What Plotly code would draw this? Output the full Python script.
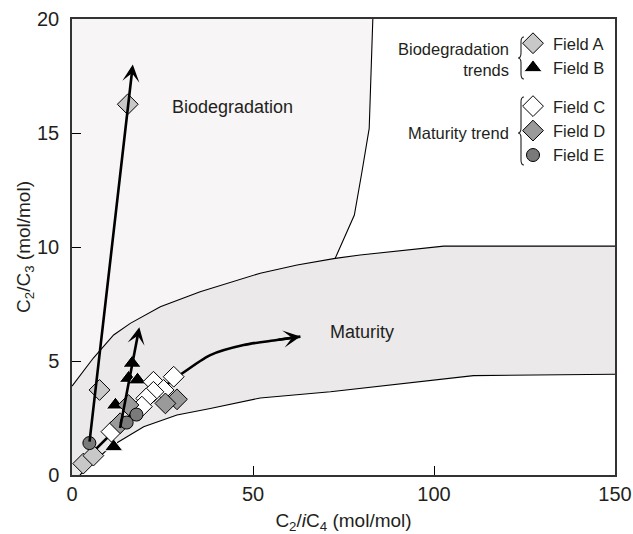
import plotly.graph_objects as go

# ---------------- data ----------------
FIELD_A_X = [3.1, 5.9, 7.6, 15.4]
FIELD_A_Y = [0.5, 0.85, 3.73, 16.26]

FIELD_B_X = [11.5, 12.0, 15.6, 18.1, 16.6]
FIELD_B_Y = [1.24, 3.07, 4.24, 4.17, 4.9]

FIELD_C_X = [28.1, 22.5, 25.3, 22.5, 20.5, 19.3, 10.9]
FIELD_C_Y = [4.31, 4.09, 3.73, 3.65, 3.36, 3.0, 1.9]

FIELD_D_X = [29.0, 25.8, 15.6, 13.3]
FIELD_D_Y = [3.32, 3.14, 3.07, 2.27]

FIELD_E_X = [4.8, 15.1, 17.8]
FIELD_E_Y = [1.4, 2.3, 2.65]

# maturity envelope
MAT_UPPER_X = [0, 5.9, 11.5, 16.1, 24.4, 35.4, 52.0, 62.2, 72.7, 79.6, 102.7, 150]
MAT_UPPER_Y = [3.9, 5.13, 6.14, 6.65, 7.38, 8.04, 8.85, 9.21, 9.5, 9.65, 10.04, 10.04]
MAT_LOWER_X = [2.2, 3.7, 10.6, 19.8, 29.0, 38.2, 52.0, 71.4, 110.9, 150]
MAT_LOWER_Y = [0, 0.22, 1.24, 2.12, 2.63, 2.92, 3.38, 3.65, 4.36, 4.42]
# biodegradation field boundary
BIO_X = [72.7, 78.0, 80.1, 82.1, 83.1]
BIO_Y = [9.5, 11.4, 13.3, 15.2, 20]

# trend arrows
ARROW_A = {"x0": 4.8, "y0": 1.4, "x1": 16.8, "y1": 18.0}
ARROW_B = {"x0": 13.2, "y0": 2.0, "x1": 18.6, "y1": 6.48}
MAT_ARROW_X = [1.7, 20.2, 29.9, 38.2, 47.4, 56.6, 63.1]
MAT_ARROW_Y = [0.36, 3.21, 4.39, 5.26, 5.7, 5.92, 6.07]

X_RANGE = [0, 150]
Y_RANGE = [0, 20]
X_TICKS = [0, 50, 100, 150]
Y_TICKS = [0, 5, 10, 15, 20]

# ---------------- style ----------------
FONT = "Liberation Sans, Arial, Helvetica, sans-serif"
TXT = "#231f20"
BIO_FILL = "#f8f5f6"
MAT_FILL = "#ebe9ea"

W, H = 633, 534
# plot area in window pixels
L, R, T, B = 72, 615, 19, 475


def pp(px, py):
    return (px - L) / (R - L), (B - py) / (B - T)


fig = go.Figure()

# biodegradation field polygon
n_up = sum(1 for v in MAT_UPPER_X if v <= BIO_X[0])
bx = MAT_UPPER_X[:n_up] + BIO_X[1:] + [0]
by = MAT_UPPER_Y[:n_up] + BIO_Y[1:] + [Y_RANGE[1]]
fig.add_trace(go.Scatter(x=bx, y=by, fill="toself", fillcolor=BIO_FILL, mode="lines",
                         line=dict(width=0), hoverinfo="skip", showlegend=False))

# maturity band polygon
mx = [0] + MAT_LOWER_X + MAT_UPPER_X[::-1]
my = [0] + MAT_LOWER_Y + MAT_UPPER_Y[::-1]
fig.add_trace(go.Scatter(x=mx, y=my, fill="toself", fillcolor=MAT_FILL, mode="lines",
                         line=dict(width=0), hoverinfo="skip", showlegend=False))

for xs, ys in [(MAT_UPPER_X, MAT_UPPER_Y), (MAT_LOWER_X, MAT_LOWER_Y), (BIO_X, BIO_Y)]:
    fig.add_trace(go.Scatter(x=xs, y=ys, mode="lines",
                             line=dict(color="#000", width=1.1),
                             hoverinfo="skip", showlegend=False))

# maturity trend curve
fig.add_trace(go.Scatter(x=MAT_ARROW_X, y=MAT_ARROW_Y, mode="lines",
                         line=dict(color="#000", width=2.6, shape="spline", smoothing=0.8),
                         hoverinfo="skip", showlegend=False))

mk_line = dict(color="#000", width=1)
fig.add_trace(go.Scatter(x=FIELD_A_X, y=FIELD_A_Y, mode="markers", name="Field A",
                         legendgroup="bio",
                         marker=dict(symbol="diamond", size=16, color="#c9c8c8", line=mk_line)))
fig.add_trace(go.Scatter(x=FIELD_B_X, y=FIELD_B_Y, mode="markers", name="Field B",
                         legendgroup="bio",
                         marker=dict(symbol="triangle-up", size=16, color="#000",
                                     line=dict(color="#fff", width=1))))
fig.add_trace(go.Scatter(x=FIELD_C_X, y=FIELD_C_Y, mode="markers", name="Field C",
                         legendgroup="mat",
                         marker=dict(symbol="diamond", size=16, color="#fff", line=mk_line)))
fig.add_trace(go.Scatter(x=FIELD_D_X, y=FIELD_D_Y, mode="markers", name="Field D",
                         legendgroup="mat",
                         marker=dict(symbol="diamond", size=16, color="#9b9a9a", line=mk_line)))
fig.add_trace(go.Scatter(x=FIELD_E_X, y=FIELD_E_Y, mode="markers", name="Field E",
                         legendgroup="mat",
                         marker=dict(symbol="circle", size=13, color="#7b7a7a", line=mk_line)))

annotations = []
for a in (ARROW_A, ARROW_B):
    annotations.append(dict(x=a["x1"], y=a["y1"], ax=a["x0"], ay=a["y0"], xref="x", yref="y",
                            axref="x", ayref="y", text="", showarrow=True, arrowhead=3,
                            arrowsize=1.1, arrowwidth=2.6, arrowcolor="#000", standoff=0))
annotations.append(dict(x=MAT_ARROW_X[-1], y=MAT_ARROW_Y[-1], ax=MAT_ARROW_X[-2], ay=MAT_ARROW_Y[-2],
                        xref="x", yref="y", axref="x", ayref="y", text="", showarrow=True,
                        arrowhead=3, arrowsize=1.1, arrowwidth=2.6, arrowcolor="#000", standoff=0))

annotations.append(dict(x=44.4, y=16.15, xref="x", yref="y", text="Biodegradation", showarrow=False,
                        font=dict(size=18, color=TXT, family=FONT)))
annotations.append(dict(x=80.1, y=6.29, xref="x", yref="y", text="Maturity", showarrow=False,
                        font=dict(size=18, color=TXT, family=FONT)))

# legend group labels
gx, gy = pp(511, 59)
annotations.append(dict(x=gx, y=gy, xref="paper", yref="paper", xanchor="right", yanchor="middle",
                        align="right", text="Biodegradation<br>trends", showarrow=False,
                        font=dict(size=16.5, color=TXT, family=FONT)))
gx, gy = pp(511, 133)
annotations.append(dict(x=gx, y=gy, xref="paper", yref="paper", xanchor="right", yanchor="middle",
                        align="right", text="Maturity trend", showarrow=False,
                        font=dict(size=16.5, color=TXT, family=FONT)))


def brace(xr, ytop, ybot, ymid, w=6, r=5):
    xm = xr - w / 2
    xl = xr - w
    pts = [("M", [(xr, ytop)]),
           ("Q", [(xm, ytop), (xm, ytop + r)]),
           ("L", [(xm, ymid - r)]),
           ("Q", [(xm, ymid), (xl, ymid)]),
           ("Q", [(xm, ymid), (xm, ymid + r)]),
           ("L", [(xm, ybot - r)]),
           ("Q", [(xm, ybot), (xr, ybot)])]
    s = ""
    for cmd, ps in pts:
        s += cmd + " " + " ".join("%.5f,%.5f" % pp(a, b) for a, b in ps) + " "
    return s.strip()


shapes = [
    dict(type="path", xref="paper", yref="paper", path=brace(524, 37, 79, 58),
         line=dict(color=TXT, width=1.1)),
    dict(type="path", xref="paper", yref="paper", path=brace(524, 97, 165, 133),
         line=dict(color=TXT, width=1.1)),
]

lx, ly = pp(513, 26)
fig.update_layout(
    width=W, height=H,
    margin=dict(l=L, r=W - R, t=T, b=H - B, autoexpand=False),
    paper_bgcolor="#fff", plot_bgcolor="#fff",
    font=dict(family=FONT, color=TXT),
    showlegend=True,
    legend=dict(x=lx, y=ly, xanchor="left", yanchor="top", bgcolor="rgba(0,0,0,0)",
                font=dict(size=16.5, color=TXT, family=FONT), tracegroupgap=14,
                itemsizing="trace"),
    annotations=annotations,
    shapes=shapes,
    xaxis=dict(range=X_RANGE, tickvals=X_TICKS, ticks="inside", ticklen=9, tickwidth=1,
               tickcolor="#000", showline=True, linecolor="#333", linewidth=1.5, mirror=True,
               showgrid=False, zeroline=False, tickfont=dict(size=20, color=TXT),
               ticklabelstandoff=0,
               title=dict(text="C<sub>2</sub>/<i>i</i>C<sub>4</sub> (mol/mol)",
                          font=dict(size=19, color=TXT), standoff=10)),
    yaxis=dict(range=Y_RANGE, tickvals=Y_TICKS, ticks="inside", ticklen=9, tickwidth=1,
               tickcolor="#000", showline=True, linecolor="#333", linewidth=1.5, mirror=True,
               showgrid=False, zeroline=False, tickfont=dict(size=20, color=TXT),
               ticklabelstandoff=7,
               title=dict(text="C<sub>2</sub>/C<sub>3</sub> (mol/mol)",
                          font=dict(size=19, color=TXT), standoff=1)),
)

fig.write_html("out.html", config={"displayModeBar": False},
               post_script="document.body.style.margin='0';")
